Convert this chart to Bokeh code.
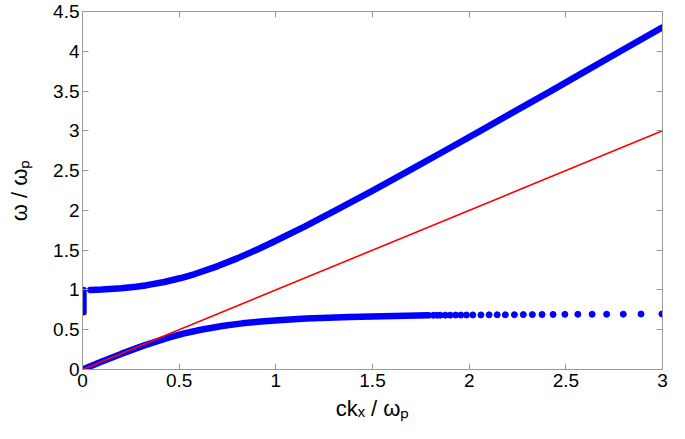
from bokeh.plotting import figure
from bokeh.models import LinearAxis, Range1d, FixedTicker
from bokeh.embed import file_html
from bokeh.resources import INLINE

# ---------------- data ----------------
x_ticks = [0, 0.5, 1, 1.5, 2, 2.5, 3]
x_tick_labels = ["0", "0.5", "1", "1.5", "2", "2.5", "3"]
y_ticks = [0, 0.5, 1, 1.5, 2, 2.5, 3, 3.5, 4, 4.5]
y_tick_labels = ["0", "0.5", "1", "1.5", "2", "2.5", "3", "3.5", "4", "4.5"]
x_title = "ck\u2093 / \u03c9\u209a"
y_title = "\u03c9 / \u03c9\u209a"

# upper branch (dense dots -> continuous thick curve)
upper_k = [0.04, 0.10, 0.20, 0.276, 0.334, 0.423, 0.509, 0.581, 0.700, 0.803, 0.896,
           0.984, 1.151, 1.309, 1.494, 1.689, 1.874, 2.058, 2.240, 2.422, 2.602, 2.782,
           3.00]
upper_w = [1.00, 1.005, 1.02, 1.04, 1.06, 1.10, 1.15, 1.20, 1.30, 1.40, 1.50,
           1.60, 1.80, 2.00, 2.24, 2.50, 2.75, 3.00, 3.25, 3.50, 3.75, 4.00,
           4.30]

# vertical part of the upper branch at k = 0
vert_k = [0.005, 0.005]
vert_w = [0.72, 1.0]

# lower branch, dense part
lower_k = [0.0, 0.10, 0.20, 0.316, 0.445, 0.521, 0.612, 0.731, 0.826, 0.907, 1.012,
           1.157, 1.382, 1.556, 1.672, 1.79]
lower_w = [0.0, 0.10, 0.196, 0.30, 0.40, 0.45, 0.50, 0.55, 0.58, 0.60, 0.62,
           0.64, 0.66, 0.67, 0.675, 0.681]

# lower branch, separated dots
dots_k = [1.815, 1.835, 1.851, 1.877, 1.902, 1.930, 1.957, 1.986, 2.019, 2.061, 2.103,
          2.145, 2.187, 2.234, 2.280, 2.327, 2.377, 2.434, 2.495, 2.562, 2.636, 2.711,
          2.797, 2.889, 2.997]
dots_w = [0.681, 0.682, 0.682, 0.683, 0.683, 0.684, 0.684, 0.685, 0.686, 0.686, 0.687,
          0.688, 0.688, 0.689, 0.690, 0.690, 0.691, 0.692, 0.693, 0.694, 0.694, 0.695,
          0.696, 0.697, 0.698]

# light line
light_k = [0, 3]
light_w = [0, 3]

# ---------------- figure ----------------
W, H = 669, 423
ML, MR, MT, MB = 82, 7, 11, 51
GRAY = "#9a9a9a"
FONT = "Liberation Sans"

p = figure(width=W, height=H, output_backend="svg", toolbar_location=None,
           x_range=Range1d(0, 3), y_range=Range1d(0, 4.5),
           min_border_left=ML, min_border_right=MR, min_border_top=MT,
           min_border_bottom=MB, background_fill_color="white",
           border_fill_color="white")
p.xgrid.visible = False
p.ygrid.visible = False
p.outline_line_color = GRAY
p.outline_line_width = 1

def style_axis(ax, ticks, labels, show_labels, standoff):
    ax.ticker = FixedTicker(ticks=ticks)
    ax.major_label_overrides = {t: s for t, s in zip(ticks, labels)}
    ax.axis_line_color = GRAY
    ax.major_tick_line_color = GRAY
    ax.minor_tick_line_color = None
    ax.major_tick_in = 6
    ax.major_tick_out = 0
    ax.major_label_standoff = standoff
    if show_labels:
        ax.major_label_text_font = FONT
        ax.major_label_text_font_size = "19px"
        ax.major_label_text_color = "black"
    else:
        ax.major_label_text_font_size = "0px"
        ax.major_label_standoff = 0

style_axis(p.xaxis[0], x_ticks, x_tick_labels, True, 4)
style_axis(p.yaxis[0], y_ticks, y_tick_labels, True, 3)

for ax, title, so in ((p.xaxis[0], x_title, 6), (p.yaxis[0], y_title, 18)):
    ax.axis_label = title
    ax.axis_label_text_font = FONT
    ax.axis_label_text_font_size = "22px"
    ax.axis_label_text_font_style = "normal"
    ax.axis_label_text_color = "black"
    ax.axis_label_standoff = so

top = LinearAxis()
style_axis(top, x_ticks, ["" for _ in x_ticks], False, 0)
p.add_layout(top, "above")
right = LinearAxis()
style_axis(right, y_ticks, ["" for _ in y_ticks], False, 0)
p.add_layout(right, "right")

# ---------------- data marks ----------------
BLUE = "#0000ff"
p.line(vert_k, vert_w, line_width=6.5, color=BLUE, line_cap="round")
p.line(upper_k, upper_w, line_width=6.5, color=BLUE, line_cap="round", line_join="round")
p.line(lower_k, lower_w, line_width=6.5, color=BLUE, line_cap="round", line_join="round")
p.scatter(dots_k, dots_w, size=6, color=BLUE)
p.line(light_k, light_w, line_width=1.6, color="#ff0000")

open("out.html", "w").write(file_html(p, INLINE))
